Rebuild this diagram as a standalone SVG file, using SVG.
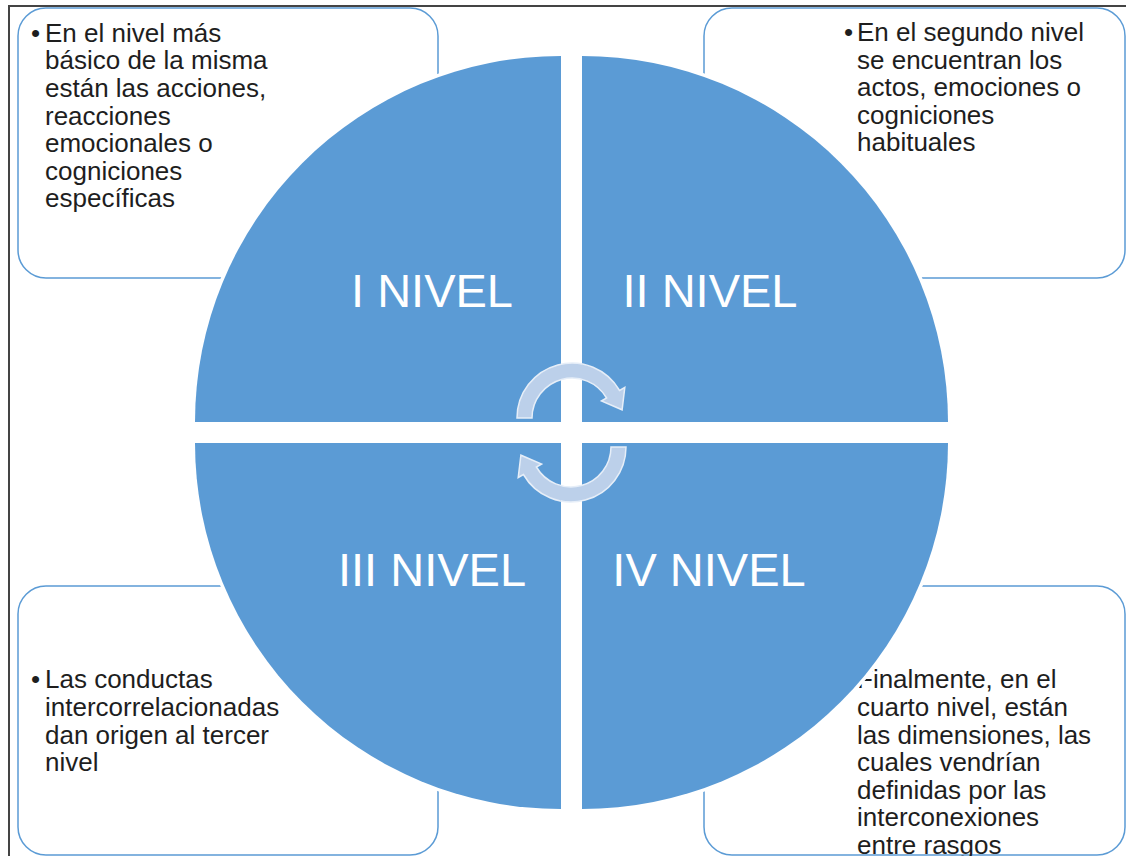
<svg xmlns="http://www.w3.org/2000/svg" width="1126" height="856" viewBox="0 0 1126 856">
<style>
.box{fill:#fff;stroke:#5b9bd5;stroke-width:1.5}
.txt{font-family:"Liberation Sans",Arial,sans-serif;font-size:26px;fill:#1e1e1e}
.quad{fill:#5b9bd5;stroke:#fff;stroke-width:7;paint-order:stroke}
.lbl{font-family:"Liberation Sans",Arial,sans-serif;font-size:47px;fill:#fff;text-anchor:middle}
.arr{fill:#bcd0ea;stroke:#e6eef8;stroke-width:1.5}
</style>
<rect width="1126" height="856" fill="#fff"/>
<path d="M9,856 V6 H1126" fill="none" stroke="#444" stroke-width="2"/>

<g id="box1">
<rect class="box" x="18" y="8" width="420" height="270" rx="28"/>
<text class="txt"><tspan x="31" y="41.7">•</tspan><tspan x="45" y="41.7">En el nivel más</tspan><tspan x="45" y="69.3">básico de la misma</tspan><tspan x="45" y="97">están las acciones,</tspan><tspan x="45" y="124.5">reacciones</tspan><tspan x="45" y="152">emocionales o</tspan><tspan x="45" y="179.7">cogniciones</tspan><tspan x="45" y="207.3">específicas</tspan></text>
</g>
<g id="box2">
<rect class="box" x="704" y="8" width="421" height="270" rx="28"/>
<text class="txt"><tspan x="844" y="41">•</tspan><tspan x="857" y="41">En el segundo nivel</tspan><tspan x="857" y="68.6">se encuentran los</tspan><tspan x="857" y="96.2">actos, emociones o</tspan><tspan x="857" y="123.8">cogniciones</tspan><tspan x="857" y="151.4">habituales</tspan></text>
</g>
<g id="box3">
<rect class="box" x="18" y="586" width="420" height="269" rx="28"/>
<text class="txt"><tspan x="31" y="688.3">•</tspan><tspan x="45" y="688.3">Las conductas</tspan><tspan x="45" y="715.9">intercorrelacionadas</tspan><tspan x="45" y="743.5">dan origen al tercer</tspan><tspan x="45" y="771.1">nivel</tspan></text>
</g>
<g id="box4">
<rect class="box" x="704" y="586" width="421" height="269" rx="28"/>
<text class="txt"><tspan x="844" y="688.3">•</tspan><tspan x="857" y="688.3">Finalmente, en el</tspan><tspan x="857" y="715.9">cuarto nivel, están</tspan><tspan x="857" y="743.5">las dimensiones, las</tspan><tspan x="857" y="771.1">cuales vendrían</tspan><tspan x="857" y="798.7">definidas por las</tspan><tspan x="857" y="826.3">interconexiones</tspan><tspan x="857" y="853.9">entre rasgos</tspan></text>
</g>

<g id="q1">
<path class="quad" d="M561,422 L195,422 A366,366 0 0 1 561,56 Z"/>
<text class="lbl" x="432" y="307">I NIVEL</text>
</g>
<g id="q2">
<path class="quad" d="M582,422 L582,56 A366,366 0 0 1 948,422 Z"/>
<text class="lbl" x="710" y="307">II NIVEL</text>
</g>
<g id="q3">
<path class="quad" d="M561,443 L561,809 A366,366 0 0 1 195,443 Z"/>
<text class="lbl" x="432" y="586">III NIVEL</text>
</g>
<g id="q4">
<path class="quad" d="M582,443 L948,443 A366,366 0 0 1 582,809 Z"/>
<text class="lbl" x="709" y="586">IV NIVEL</text>
</g>

<g id="connectors">
<path id="arrowTop" class="arr" d="M517,418 A55,55 0 0 1 619.6,390.5 L624.8,387.5 L622.1,409.8 L601.4,401 L606.6,398 A40,40 0 0 0 532,418 Z"/>
<path id="arrowBottom" class="arr" transform="rotate(180 571.5 432.5)" d="M517,418 A55,55 0 0 1 619.6,390.5 L624.8,387.5 L622.1,409.8 L601.4,401 L606.6,398 A40,40 0 0 0 532,418 Z"/>
</g>
</svg>
